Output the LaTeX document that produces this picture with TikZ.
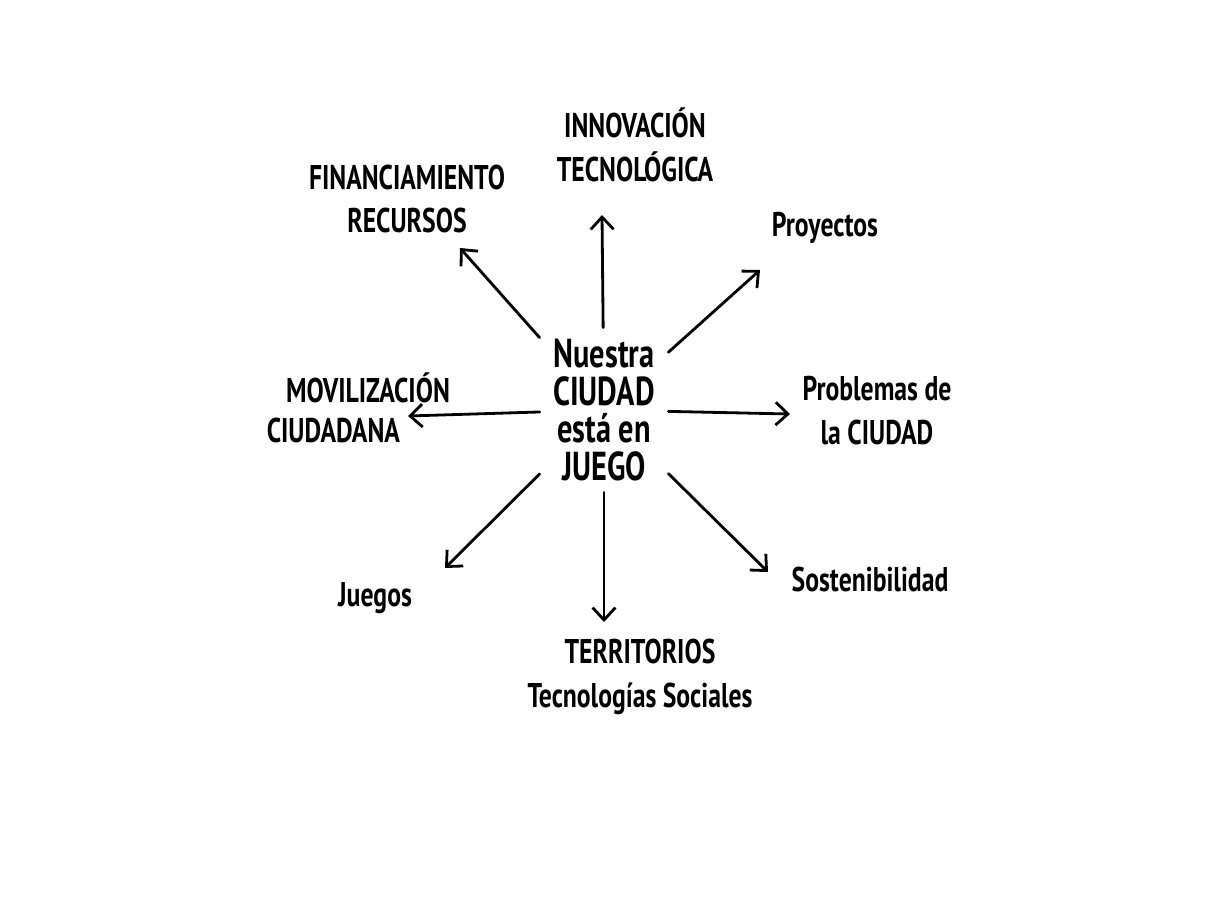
\documentclass[tikz,border=0pt]{standalone}
\usepackage{fontspec}
\setmainfont{PT Sans}[FakeStretch=0.75]
\usetikzlibrary{arrows.meta}
\usetikzlibrary{positioning}

\tikzset{
	lbl/.style={align=center, inner sep=1pt, font=\fontsize{19.5}{25}\selectfont\bfseries},
	hub/.style={align=center, inner sep=0pt, minimum width=2.56cm, minimum height=3.28cm, font=\fontsize{23}{21.5}\selectfont\bfseries},
	arr/.style={line width=1.6pt, line cap=round, -{Straight Barb[length=7pt, width=13pt, line width=1.6pt]}}
}

\begin{document}
\begin{tikzpicture}[x=0.02cm, y=-0.02cm]
	\useasboundingbox (0,0) rectangle (1208,900);
	\node[hub] (ctr) at (604,410) {Nuestra\\CIUDAD\\está en\\JUEGO};

	\node[lbl] (innov) at (635,145) {INNOVACIÓN\\TECNOLÓGICA};
	\node[lbl] (fin) at (407,199) {FINANCIAMIENTO\\RECURSOS};
	\node[lbl] (proy) at (825,228) {Proyectos};
	\node[lbl] (prob) at (877,411) {Problemas de\\la CIUDAD};
	\node[lbl, align=right, anchor=east, font=\fontsize{19.5}{23}\selectfont\bfseries] (movil) at (452,408) {MOVILIZACIÓN\\CIUDADANA\hspace*{1cm}};
	\node[lbl] (juegos) at (375,598) {Juegos};
	\node[lbl] (terr) at (640,677) {TERRITORIOS\\Tecnologías Sociales};
	\node[lbl] (sost) at (870,580) {Sostenibilidad};

	\coordinate (innov-tip) at (602,215);
	\coordinate (fin-tip) at (460,248);
	\coordinate (proy-tip) at (760,270);
	\coordinate (prob-tip) at (790,414);
	\coordinate (movil-tip) at (408,416);
	\coordinate (juegos-tip) at (445,568);
	\coordinate (terr-tip) at (604,622);
	\coordinate (sost-tip) at (768,572);

	\foreach \t in {innov,fin,proy,prob,movil,juegos,terr,sost}
		\draw[arr] (ctr) -- (\t-tip);
\end{tikzpicture}
\end{document}
